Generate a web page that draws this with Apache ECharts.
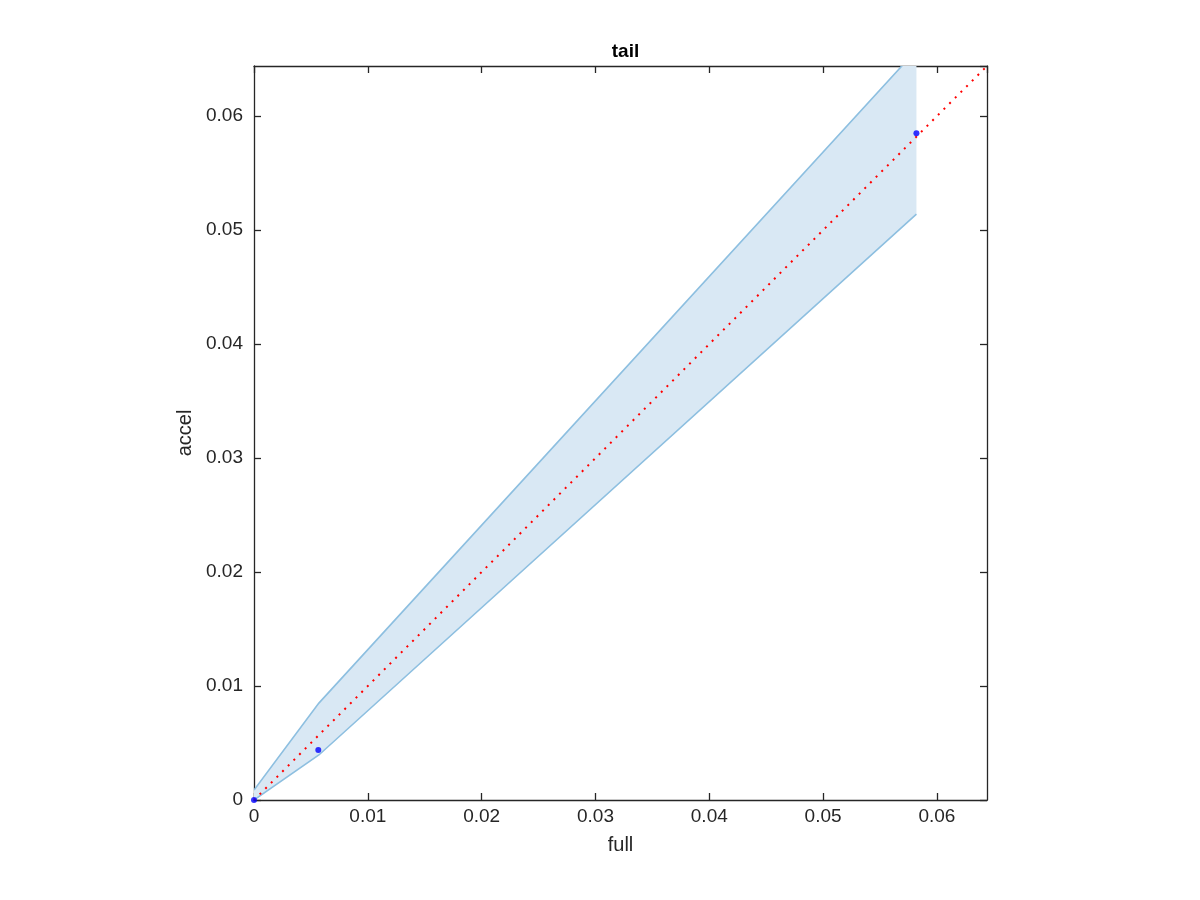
<!DOCTYPE html>
<html>
<head>
<meta charset="utf-8">
<script src="https://cdn.jsdelivr.net/npm/echarts@6/dist/echarts.min.js"></script>
<style>html,body{margin:0;padding:0;background:#fff}#c{width:1200px;height:900px}</style>
</head>
<body>
<div id="c"></div>
<script>
// Data
var title = 'tail';
var xName = 'full';
var yName = 'accel';
var pointsX = [0, 0.00565, 0.0582];
var pointsY = [0, 0.00439, 0.0585];
var bandX = [0, 0.0057, 0.0582];
var bandUpper = [0.00088, 0.0085, 0.0658];
var bandLower = [0, 0.00395, 0.0514];
var refLineX = [0, 0.0644];
var refLineY = [0, 0.0644];
var tickValues = [0, 0.01, 0.02, 0.03, 0.04, 0.05, 0.06];
var tickLabels = ['0', '0.01', '0.02', '0.03', '0.04', '0.05', '0.06'];
var axisMin = 0, axisMax = 0.0644;

var chart = echarts.init(document.getElementById('c'));
var FONT = '"Liberation Sans", Arial, sans-serif';
var AX = '#262626';

function fmt(v) {
  var k = Math.round(v / 0.01);
  if (Math.abs(v - k * 0.01) < 1e-7 && k >= 0 && k < tickLabels.length) return tickLabels[k];
  return '';
}

var bandPoly = [];
for (var i = 0; i < bandX.length; i++) bandPoly.push([bandX[i], bandUpper[i]]);
for (var j = bandX.length - 1; j >= 0; j--) bandPoly.push([bandX[j], bandLower[j]]);

function mainAxis(pos, name, isX) {
  return {
    type: 'value', position: pos, min: axisMin, max: axisMax, interval: 0.01,
    name: name, nameLocation: 'middle', nameGap: isX ? 35 : 56,
    nameTextStyle: { fontFamily: FONT, fontSize: 20, color: AX },
    axisLine: { show: true, onZero: false, lineStyle: { color: AX, width: 1.3 } },
    axisTick: { show: true, inside: true, length: 7, lineStyle: { color: AX, width: 1.3 } },
    axisLabel: { show: true, formatter: fmt, fontFamily: FONT, fontSize: 19, color: AX, margin: isX ? 7 : 11, showMaxLabel: false },
    splitLine: { show: false }
  };
}
function mirrorAxis(pos) {
  return {
    type: 'value', position: pos, min: axisMin, max: axisMax, interval: 0.01,
    axisLine: { show: true, onZero: false, lineStyle: { color: AX, width: 1.3 } },
    axisTick: { show: true, inside: true, length: 7, lineStyle: { color: AX, width: 1.3 } },
    axisLabel: { show: false },
    splitLine: { show: false }
  };
}

chart.setOption({
  animation: false,
  backgroundColor: '#fff',
  title: {
    text: title, left: 620.5, top: 37, textAlign: 'center',
    textStyle: { fontFamily: FONT, fontSize: 19, fontWeight: 'bold', color: '#000' }
  },
  grid: { left: 254, top: 66, width: 733, height: 734, containLabel: false },
  xAxis: [mainAxis('bottom', xName, true), mirrorAxis('top')],
  yAxis: [mainAxis('left', yName, false), mirrorAxis('right')],
  series: [
    {
      type: 'custom', clip: true, z: 1,
      data: [0],
      renderItem: function (params, api) {
        var pts = bandPoly.map(function (p) { return api.coord(p); });
        var up = []; var lo = [];
        for (var i = 0; i < bandX.length; i++) {
          up.push(api.coord([bandX[i], bandUpper[i]]));
          lo.push(api.coord([bandX[i], bandLower[i]]));
        }
        return {
          type: 'group',
          children: [
            { type: 'polygon', shape: { points: pts }, style: { fill: '#d9e8f4', stroke: null } },
            { type: 'polyline', shape: { points: up }, style: { fill: null, stroke: '#8dbfe0', lineWidth: 1.6 } },
            { type: 'polyline', shape: { points: lo }, style: { fill: null, stroke: '#8dbfe0', lineWidth: 1.6 } }
          ]
        };
      }
    },
    {
      type: 'line', z: 3, symbol: 'none', silent: true,
      data: refLineX.map(function (x, i) { return [x, refLineY[i]]; }),
      lineStyle: { color: '#ff0000', width: 2, type: [2, 6] }
    },
    {
      type: 'scatter', z: 4, symbol: 'circle', symbolSize: 6,
      data: pointsX.map(function (x, i) { return [x, pointsY[i]]; }),
      itemStyle: { color: '#0000ff' }
    }
  ]
});
</script>
</body>
</html>
